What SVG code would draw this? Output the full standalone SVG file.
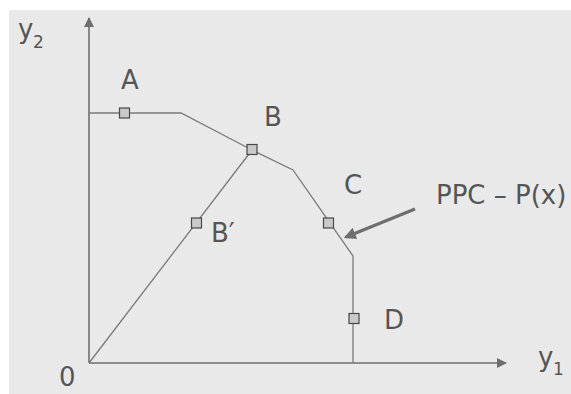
<svg xmlns="http://www.w3.org/2000/svg" width="571" height="394" viewBox="0 0 571 394">
<style>
  text { font-family: "DejaVu Sans", Verdana, sans-serif; fill: #555555; }
  .lbl { font-size: 26px; }
  .sub { font-size: 17px; }
  .axis { stroke: #6e6e6e; stroke-width: 1.6; fill: none; }
  .curve { stroke: #7a7a7a; stroke-width: 1.3; fill: none; }
  .pt { fill: #c9c9c9; stroke: #474747; stroke-width: 1.2; }
  .ptr { stroke: #6e6e6e; stroke-width: 3.2; fill: none; }
</style>
<defs>
  <marker id="axhead" viewBox="0 0 10 10" refX="9" refY="5" markerWidth="10" markerHeight="10" markerUnits="userSpaceOnUse" orient="auto">
    <path d="M0,0 L10,5 L0,10 Z" fill="#6e6e6e"/>
  </marker>
  <marker id="ptrhead" viewBox="0 0 10 10" refX="8" refY="5" markerWidth="14" markerHeight="12" markerUnits="userSpaceOnUse" orient="auto">
    <path d="M0,0 L10,5 L0,10 Z" fill="#6e6e6e"/>
  </marker>
</defs>
<rect x="9" y="10" width="562" height="384" fill="#e9e9e9"/>

<g id="axes">
  <line class="axis" x1="89" y1="363" x2="89" y2="18" marker-end="url(#axhead)"/>
  <line class="axis" x1="89" y1="363" x2="506" y2="363" marker-end="url(#axhead)"/>
  <text class="lbl" x="18" y="38">y</text><text class="sub" x="33" y="48">2</text>
  <text class="lbl" x="538" y="366">y</text><text class="sub" x="553" y="375">1</text>
  <text class="lbl" x="59" y="386">0</text>
</g>

<g id="connectors">
  <polyline class="curve" points="89,113 181,113 252,150 293,170 353,256 353,363"/>
  <line class="curve" x1="89" y1="363" x2="252" y2="150"/>
  <line class="ptr" x1="415" y1="209" x2="346" y2="237" marker-end="url(#ptrhead)"/>
</g>

<g id="A">
  <rect class="pt" x="119.5" y="108" width="10" height="10"/>
  <text class="lbl" x="121" y="89">A</text>
</g>
<g id="B">
  <rect class="pt" x="247" y="144.5" width="10" height="10"/>
  <text class="lbl" x="264" y="126">B</text>
</g>
<g id="B-prime">
  <rect class="pt" x="191.5" y="218" width="10" height="10"/>
  <text class="lbl" x="211" y="242">B′</text>
</g>
<g id="C">
  <rect class="pt" x="323.5" y="218" width="10" height="10"/>
  <text class="lbl" x="344" y="194">C</text>
</g>
<g id="D">
  <rect class="pt" x="349" y="313.5" width="10" height="10"/>
  <text class="lbl" x="384" y="329">D</text>
</g>
<g id="PPC-label">
  <text class="lbl" x="436" y="204">PPC – P(x)</text>
</g>
</svg>
